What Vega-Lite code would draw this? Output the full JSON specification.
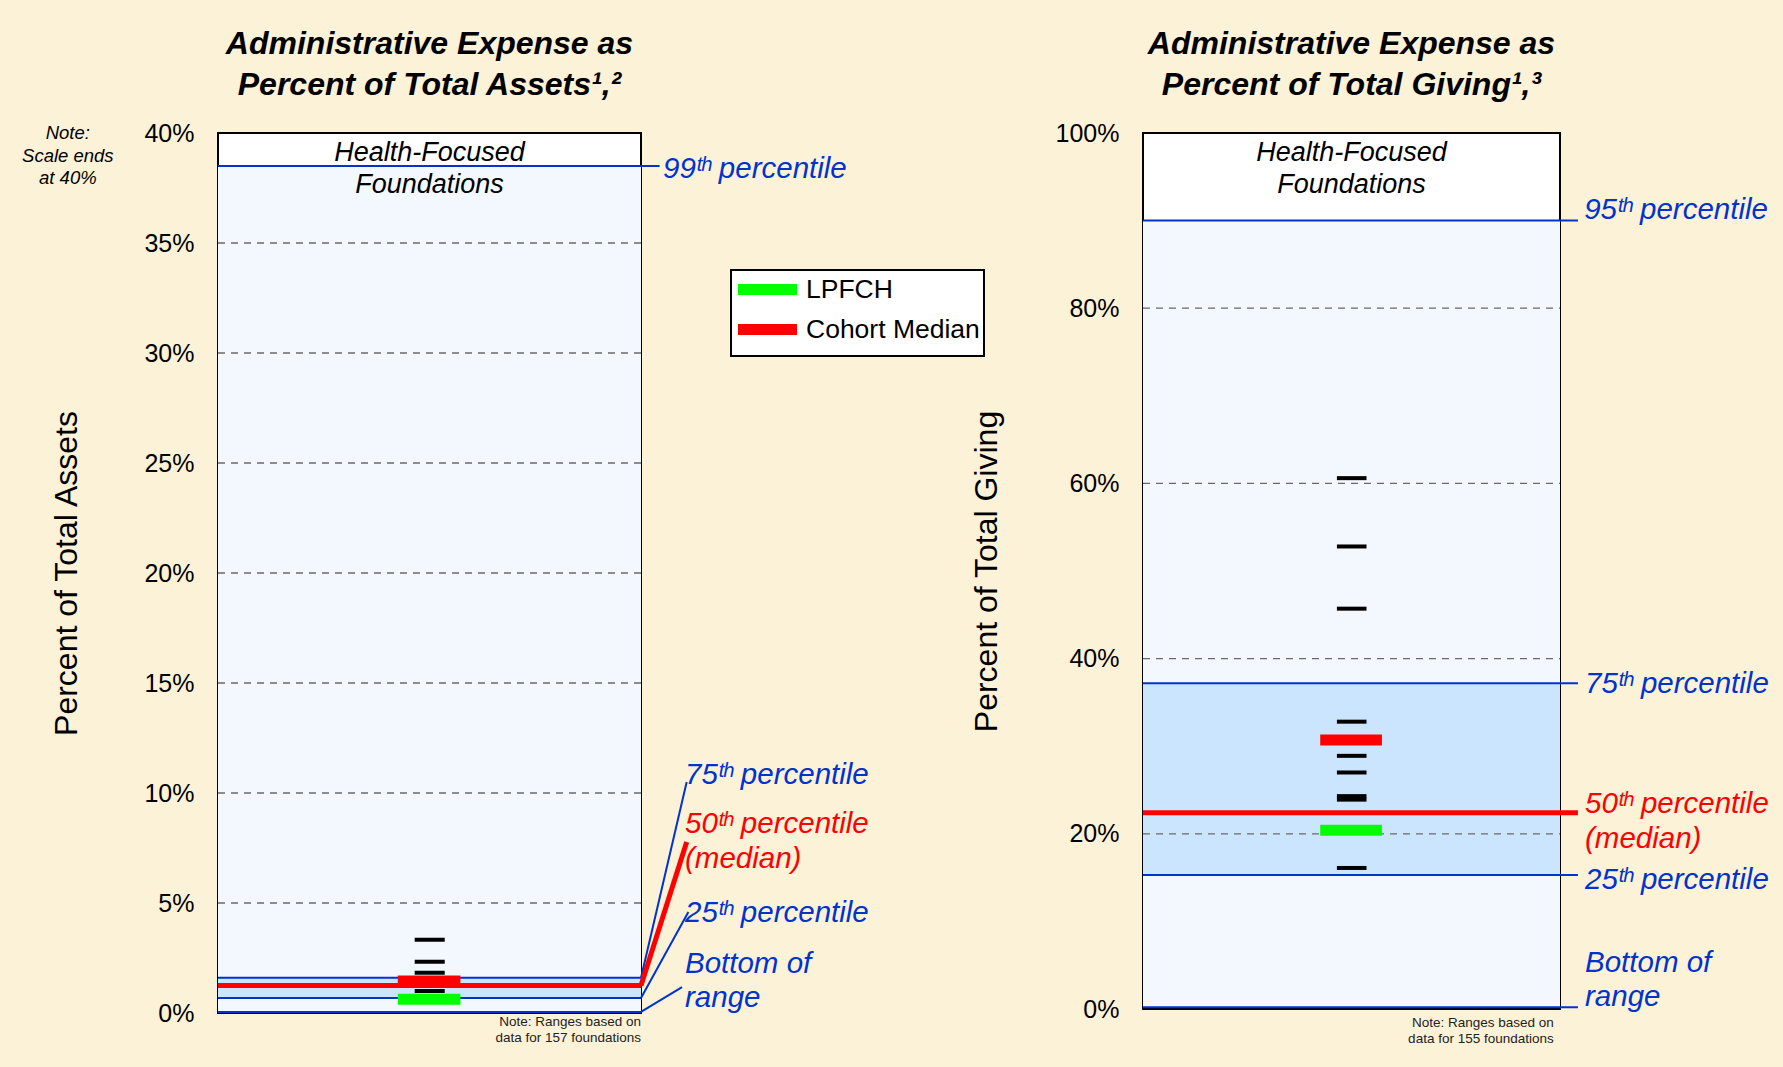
{
  "$schema": "https://vega.github.io/schema/vega-lite/v6.json",
  "background": "#FCF2D8",
  "padding": {"left": 21, "top": 27, "right": 16, "bottom": 24},
  "config": {
    "font": "Liberation Sans",
    "view": {"stroke": "black", "strokeWidth": 2, "fill": "white"},
    "axisX": {"disable": true},
    "axis": {"grid": false, "ticks": false, "tickSize": 0, "domain": false, "labelFontSize": 25, "labelColor": "black", "labelPadding": 24, "titleFontSize": 32, "titleFontWeight": "normal", "titleColor": "black"},
    "legend": {"orient": "none", "legendX": 513, "legendY": 137, "fillColor": "white", "strokeColor": "black", "padding": 4, "symbolType": "M-1.25,0H4.65", "symbolSize": 400, "symbolStrokeWidth": 11, "labelFontSize": 26.5, "labelColor": "black", "labelOffset": 40, "rowPadding": -5, "labelLimit": 400},
    "title": {"fontSize": 32, "fontWeight": "bold", "fontStyle": "italic", "anchor": "middle", "frame": "group", "offset": 19, "lineHeight": 41, "color": "black"}
  },
  "datasets": {
    "leftBands": [{"band": "range", "lo": 0.05, "hi": 38.5}, {"band": "IQR", "lo": 0.68, "hi": 1.6}],
    "rightBands": [{"band": "range", "lo": 0.2, "hi": 90}, {"band": "IQR", "lo": 15.3, "hi": 37.2}],
    "leftGrid": [{"pct": 5}, {"pct": 10}, {"pct": 15}, {"pct": 20}, {"pct": 25}, {"pct": 30}, {"pct": 35}],
    "rightGrid": [{"pct": 20}, {"pct": 40}, {"pct": 60}, {"pct": 80}],
    "leftStats": [{"stat": "99th percentile", "pct": 38.5}, {"stat": "75th percentile", "pct": 1.6}, {"stat": "median", "pct": 1.25}, {"stat": "25th percentile", "pct": 0.68}, {"stat": "bottom of range", "pct": 0.05}],
    "rightStats": [{"stat": "95th percentile", "pct": 90}, {"stat": "75th percentile", "pct": 37.2}, {"stat": "median", "pct": 22.4}, {"stat": "25th percentile", "pct": 15.3}, {"stat": "bottom of range", "pct": 0.2}],
    "leftPeers": [{"pct": 3.33}, {"pct": 2.33}, {"pct": 1.83}, {"pct": 1.0}],
    "rightPeers": [{"pct": 60.6}, {"pct": 52.8}, {"pct": 45.7}, {"pct": 32.8}, {"pct": 28.9}, {"pct": 27.0}, {"pct": 24.3}, {"pct": 23.9}, {"pct": 16.1}],
    "leftHighlights": [{"series": "LPFCH", "pct": 0.62}, {"series": "Cohort Median", "pct": 1.46}],
    "rightHighlights": [{"series": "LPFCH", "pct": 20.4}, {"series": "Cohort Median", "pct": 30.7}],
    "note": [{"id": 1}]
  },
  "spacing": 502,
  "bounds": "flush",
  "resolve": {"scale": {"x": "independent", "y": "independent"}},
  "hconcat": [
    {
      "width": 423,
      "height": 880,
      "title": {"text": ["Administrative Expense as", "Percent of Total Assets¹,²"]},
      "layer": [
        {
          "data": {"name": "leftBands"},
          "mark": {"type": "rect"},
          "encoding": {
            "x": {"datum": 0, "type": "quantitative", "scale": {"domain": [0, 1]}, "axis": null},
            "x2": {"datum": 1},
            "y": {"field": "lo", "type": "quantitative", "scale": {"domain": [0, 40], "nice": false}, "axis": {"values": [0, 5, 10, 15, 20, 25, 30, 35, 40], "labelExpr": "datum.value + '%'", "title": "Percent of Total Assets", "titlePadding": 60}},
            "y2": {"field": "hi"},
            "fill": {"field": "band", "type": "nominal", "scale": {"domain": ["range", "IQR"], "range": ["#F3F8FF", "#CCE5FF"]}, "legend": null}
          }
        },
        {
          "data": {"name": "leftGrid"},
          "mark": {"type": "rule", "color": "#6A6A6A", "strokeDash": [7, 6], "strokeWidth": 1.3},
          "encoding": {"x": {"datum": 0}, "x2": {"datum": 1}, "y": {"field": "pct", "type": "quantitative"}}
        },
        {
          "data": {"name": "leftStats"},
          "transform": [{"filter": "indexof(['75th percentile','25th percentile','bottom of range'], datum.stat) >= 0"}],
          "mark": {"type": "rule", "color": "#0033CC", "strokeWidth": 2},
          "encoding": {"x": {"datum": 0}, "x2": {"datum": 1}, "y": {"field": "pct", "type": "quantitative"}}
        },
        {
          "data": {"name": "leftStats"},
          "transform": [{"filter": "datum.stat === '99th percentile'"}],
          "mark": {"type": "rule", "color": "#0033CC", "strokeWidth": 2},
          "encoding": {"x": {"datum": 0}, "x2": {"datum": 1.044}, "y": {"field": "pct", "type": "quantitative"}}
        },
        {
          "data": {"name": "leftStats"},
          "transform": [{"filter": "datum.stat === 'median'"}],
          "mark": {"type": "rule", "color": "#FF0000", "strokeWidth": 5},
          "encoding": {"x": {"datum": 0}, "x2": {"datum": 1}, "y": {"field": "pct", "type": "quantitative"}}
        },
        {
          "data": {"name": "leftStats"},
          "transform": [{"filter": "datum.stat === '75th percentile'"}],
          "mark": {"type": "rule", "color": "#0033CC", "strokeWidth": 2},
          "encoding": {"x": {"datum": 1}, "x2": {"datum": 1.108}, "y": {"field": "pct", "type": "quantitative"}, "y2": {"datum": 10.5}}
        },
        {
          "data": {"name": "leftStats"},
          "transform": [{"filter": "datum.stat === 'median'"}],
          "mark": {"type": "rule", "color": "#FF0000", "strokeWidth": 5},
          "encoding": {"x": {"datum": 1}, "x2": {"datum": 1.108}, "y": {"field": "pct", "type": "quantitative"}, "y2": {"datum": 7.77}}
        },
        {
          "data": {"name": "leftStats"},
          "transform": [{"filter": "datum.stat === '25th percentile'"}],
          "mark": {"type": "rule", "color": "#0033CC", "strokeWidth": 2},
          "encoding": {"x": {"datum": 1}, "x2": {"datum": 1.112}, "y": {"field": "pct", "type": "quantitative"}, "y2": {"datum": 4.59}}
        },
        {
          "data": {"name": "leftStats"},
          "transform": [{"filter": "datum.stat === 'bottom of range'"}],
          "mark": {"type": "rule", "color": "#0033CC", "strokeWidth": 2},
          "encoding": {"x": {"datum": 1}, "x2": {"datum": 1.097}, "y": {"field": "pct", "type": "quantitative"}, "y2": {"datum": 1.18}}
        },
        {
          "data": {"name": "leftPeers"},
          "mark": {"type": "rule", "color": "black", "strokeWidth": 4},
          "encoding": {"x": {"datum": 0.465}, "x2": {"datum": 0.536}, "y": {"field": "pct", "type": "quantitative"}}
        },
        {
          "data": {"name": "leftHighlights"},
          "mark": {"type": "rule", "strokeWidth": 11},
          "encoding": {
            "x": {"datum": 0.425}, "x2": {"datum": 0.573},
            "y": {"field": "pct", "type": "quantitative"},
            "color": {"field": "series", "type": "nominal", "scale": {"domain": ["LPFCH", "Cohort Median"], "range": ["#00FF00", "#FF0000"]}, "legend": {"title": null, "encode": {"legend": {"update": {"strokeWidth": {"value": 2}}}}}}
          }
        },
        {
          "data": {"name": "leftStats"},
          "transform": [{"filter": "datum.stat === '99th percentile'"}],
          "mark": {"type": "text", "text": "99ᵗʰ percentile", "color": "#0033CC", "fontSize": 29.5, "fontStyle": "italic", "align": "left", "baseline": "middle"},
          "encoding": {"x": {"datum": 1.052}, "y": {"datum": 38.36}}
        },
        {
          "data": {"name": "leftStats"},
          "transform": [{"filter": "datum.stat === '75th percentile'"}],
          "mark": {"type": "text", "text": "75ᵗʰ percentile", "color": "#0033CC", "fontSize": 29.5, "fontStyle": "italic", "align": "left", "baseline": "middle"},
          "encoding": {"x": {"datum": 1.104}, "y": {"datum": 10.82}}
        },
        {
          "data": {"name": "leftStats"},
          "transform": [{"filter": "datum.stat === 'median'"}],
          "mark": {"type": "text", "text": ["50ᵗʰ percentile", "(median)"], "lineHeight": 35, "color": "#FF0000", "fontSize": 29.5, "fontStyle": "italic", "align": "left", "baseline": "middle"},
          "encoding": {"x": {"datum": 1.104}, "y": {"datum": 8.59}}
        },
        {
          "data": {"name": "leftStats"},
          "transform": [{"filter": "datum.stat === '25th percentile'"}],
          "mark": {"type": "text", "text": "25ᵗʰ percentile", "color": "#0033CC", "fontSize": 29.5, "fontStyle": "italic", "align": "left", "baseline": "middle"},
          "encoding": {"x": {"datum": 1.104}, "y": {"datum": 4.55}}
        },
        {
          "data": {"name": "leftStats"},
          "transform": [{"filter": "datum.stat === 'bottom of range'"}],
          "mark": {"type": "text", "text": ["Bottom of", "range"], "lineHeight": 34, "color": "#0033CC", "fontSize": 29.5, "fontStyle": "italic", "align": "left", "baseline": "middle"},
          "encoding": {"x": {"datum": 1.104}, "y": {"datum": 2.23}}
        },
        {
          "data": {"name": "note"},
          "mark": {"type": "text", "text": ["Health-Focused", "Foundations"], "lineHeight": 32, "color": "black", "fontSize": 27, "fontStyle": "italic", "align": "center", "baseline": "middle"},
          "encoding": {"x": {"datum": 0.5}, "y": {"datum": 39.09}}
        },
        {
          "data": {"name": "note"},
          "mark": {"type": "text", "text": ["Note:", "Scale ends", "at 40%"], "lineHeight": 22.5, "color": "black", "fontSize": 18.5, "fontStyle": "italic", "align": "center", "baseline": "middle"},
          "encoding": {"x": {"datum": -0.355}, "y": {"datum": 40.0}}
        },
        {
          "data": {"name": "note"},
          "mark": {"type": "text", "text": ["Note: Ranges based on", "data for 157 foundations"], "lineHeight": 16, "color": "#222222", "fontSize": 13.5, "align": "right", "baseline": "middle"},
          "encoding": {"x": {"datum": 1.0}, "y": {"datum": -0.41}}
        }
      ]
    },
    {
      "width": 417,
      "height": 876,
      "title": {"text": ["Administrative Expense as", "Percent of Total Giving¹,³"]},
      "layer": [
        {
          "data": {"name": "rightBands"},
          "mark": {"type": "rect"},
          "encoding": {
            "x": {"datum": 0, "type": "quantitative", "scale": {"domain": [0, 1]}, "axis": null},
            "x2": {"datum": 1},
            "y": {"field": "lo", "type": "quantitative", "scale": {"domain": [0, 100], "nice": false}, "axis": {"values": [0, 20, 40, 60, 80, 100], "labelExpr": "datum.value + '%'", "title": "Percent of Total Giving", "titlePadding": 52}},
            "y2": {"field": "hi"},
            "fill": {"field": "band", "type": "nominal", "scale": {"domain": ["range", "IQR"], "range": ["#F3F8FF", "#CCE5FF"]}, "legend": null}
          }
        },
        {
          "data": {"name": "rightGrid"},
          "mark": {"type": "rule", "color": "#6A6A6A", "strokeDash": [7, 6], "strokeWidth": 1.3},
          "encoding": {"x": {"datum": 0}, "x2": {"datum": 1}, "y": {"field": "pct", "type": "quantitative"}}
        },
        {
          "data": {"name": "rightStats"},
          "transform": [{"filter": "datum.stat !== 'median'"}],
          "mark": {"type": "rule", "color": "#0033CC", "strokeWidth": 2},
          "encoding": {"x": {"datum": 0}, "x2": {"datum": 1.043}, "y": {"field": "pct", "type": "quantitative"}}
        },
        {
          "data": {"name": "rightStats"},
          "transform": [{"filter": "datum.stat === 'median'"}],
          "mark": {"type": "rule", "color": "#FF0000", "strokeWidth": 5},
          "encoding": {"x": {"datum": 0}, "x2": {"datum": 1.043}, "y": {"field": "pct", "type": "quantitative"}}
        },
        {
          "data": {"name": "rightPeers"},
          "mark": {"type": "rule", "color": "black", "strokeWidth": 4},
          "encoding": {"x": {"datum": 0.465}, "x2": {"datum": 0.536}, "y": {"field": "pct", "type": "quantitative"}}
        },
        {
          "data": {"name": "rightHighlights"},
          "mark": {"type": "rule", "strokeWidth": 11},
          "encoding": {
            "x": {"datum": 0.425}, "x2": {"datum": 0.573},
            "y": {"field": "pct", "type": "quantitative"},
            "color": {"field": "series", "type": "nominal", "scale": {"domain": ["LPFCH", "Cohort Median"], "range": ["#00FF00", "#FF0000"]}, "legend": {"title": null, "encode": {"legend": {"update": {"strokeWidth": {"value": 2}}}}}}
          }
        },
        {
          "data": {"name": "rightStats"},
          "transform": [{"filter": "datum.stat === '95th percentile'"}],
          "mark": {"type": "text", "text": "95ᵗʰ percentile", "color": "#0033CC", "fontSize": 29.5, "fontStyle": "italic", "align": "left", "baseline": "middle"},
          "encoding": {"x": {"datum": 1.058}, "y": {"datum": 91.2}}
        },
        {
          "data": {"name": "rightStats"},
          "transform": [{"filter": "datum.stat === '75th percentile'"}],
          "mark": {"type": "text", "text": "75ᵗʰ percentile", "color": "#0033CC", "fontSize": 29.5, "fontStyle": "italic", "align": "left", "baseline": "middle"},
          "encoding": {"x": {"datum": 1.06}, "y": {"datum": 37.1}}
        },
        {
          "data": {"name": "rightStats"},
          "transform": [{"filter": "datum.stat === 'median'"}],
          "mark": {"type": "text", "text": ["50ᵗʰ percentile", "(median)"], "lineHeight": 35, "color": "#FF0000", "fontSize": 29.5, "fontStyle": "italic", "align": "left", "baseline": "middle"},
          "encoding": {"x": {"datum": 1.06}, "y": {"datum": 23.4}}
        },
        {
          "data": {"name": "rightStats"},
          "transform": [{"filter": "datum.stat === '25th percentile'"}],
          "mark": {"type": "text", "text": "25ᵗʰ percentile", "color": "#0033CC", "fontSize": 29.5, "fontStyle": "italic", "align": "left", "baseline": "middle"},
          "encoding": {"x": {"datum": 1.06}, "y": {"datum": 14.7}}
        },
        {
          "data": {"name": "rightStats"},
          "transform": [{"filter": "datum.stat === 'bottom of range'"}],
          "mark": {"type": "text", "text": ["Bottom of", "range"], "lineHeight": 34, "color": "#0033CC", "fontSize": 29.5, "fontStyle": "italic", "align": "left", "baseline": "middle"},
          "encoding": {"x": {"datum": 1.06}, "y": {"datum": 5.25}}
        },
        {
          "data": {"name": "note"},
          "mark": {"type": "text", "text": ["Health-Focused", "Foundations"], "lineHeight": 32, "color": "black", "fontSize": 27, "fontStyle": "italic", "align": "center", "baseline": "middle"},
          "encoding": {"x": {"datum": 0.5}, "y": {"datum": 97.7}}
        },
        {
          "data": {"name": "note"},
          "mark": {"type": "text", "text": ["Note: Ranges based on", "data for 155 foundations"], "lineHeight": 16, "color": "#222222", "fontSize": 13.5, "align": "right", "baseline": "middle"},
          "encoding": {"x": {"datum": 0.985}, "y": {"datum": -1.6}}
        }
      ]
    }
  ]
}
